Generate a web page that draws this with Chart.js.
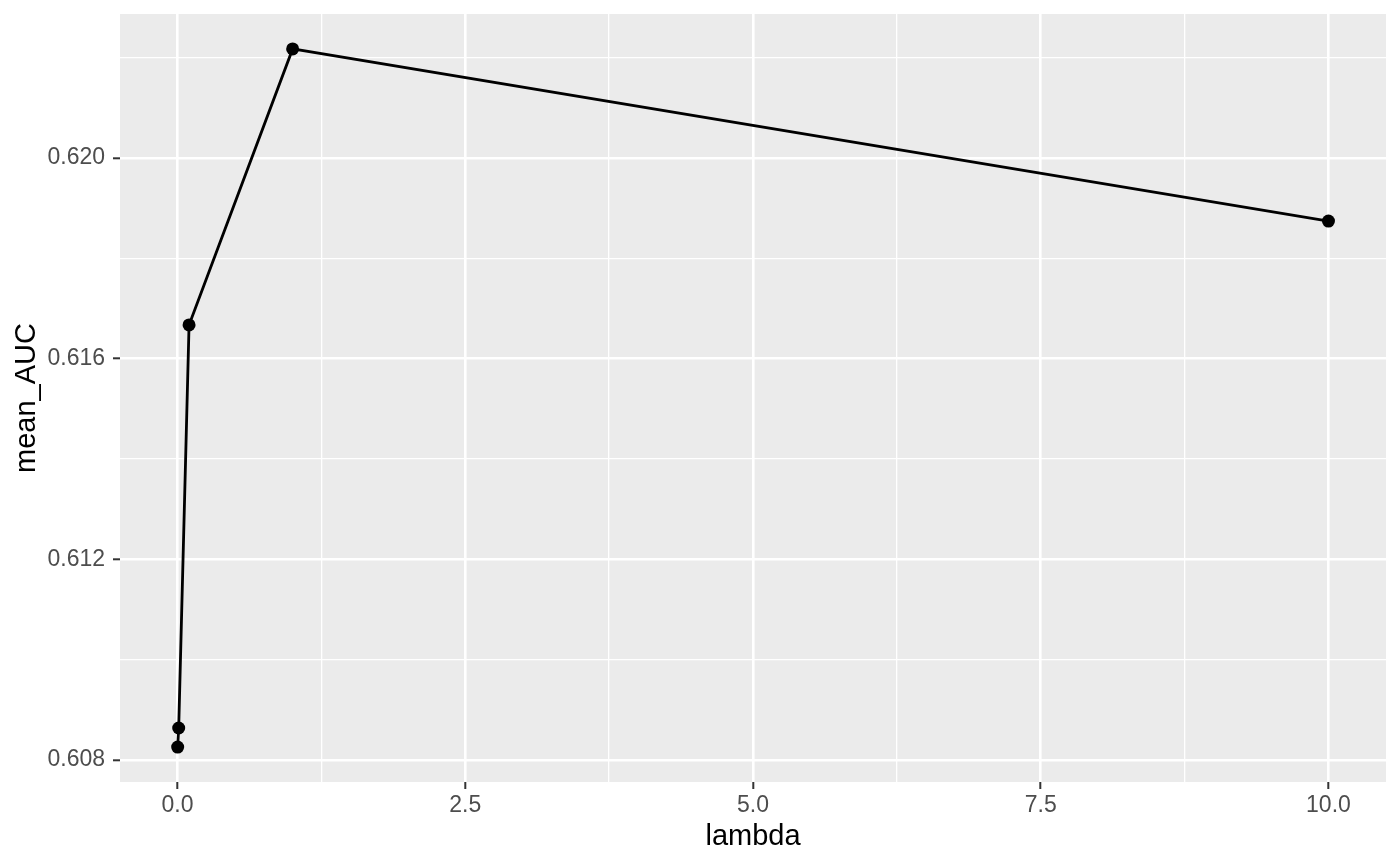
<!DOCTYPE html>
<html>
<head>
<meta charset="utf-8">
<script src="https://cdn.jsdelivr.net/npm/chart.js@4/dist/chart.umd.min.js"></script>
<style>
  html, body { margin: 0; padding: 0; background: #ffffff; }
  canvas { display: block; }
</style>
</head>
<body>
<canvas id="c" width="1400" height="866"></canvas>
<script>
// ---- data ----
const lambdas = [0.001, 0.01, 0.1, 1, 10];
const meanAUC = [0.60826, 0.60864, 0.61667, 0.62217, 0.61874];

// ---- axis ticks ----
const xMajorTicks = [0, 2.5, 5, 7.5, 10];
const xMinorTicks = [1.25, 3.75, 6.25, 8.75];
const yMajorTicks = [0.608, 0.612, 0.616, 0.620];
const yMinorTicks = [0.610, 0.614, 0.618, 0.622];
const xLabels = ['0.0', '2.5', '5.0', '7.5', '10.0'];
const yLabels = ['0.608', '0.612', '0.616', '0.620'];

// ggplot-style 5% expansion
function expand(vals) {
  const lo = Math.min(...vals), hi = Math.max(...vals);
  const d = (hi - lo) * 0.05;
  return [lo - d, hi + d];
}
const xRange = expand([0, ...lambdas.slice(1)]);
const yRange = expand(meanAUC);

const FONT = "'Liberation Sans', Arial, Helvetica, sans-serif";

function isMajor(list, v) { return list.some(m => Math.abs(m - v) < 1e-9); }

const panelBg = {
  id: 'panelBg',
  beforeDraw(chart) {
    const { ctx, chartArea: a } = chart;
    ctx.save();
    ctx.fillStyle = '#ffffff';
    ctx.fillRect(0, 0, chart.width, chart.height);
    ctx.fillStyle = '#EBEBEB';
    ctx.fillRect(a.left, a.top, a.right - a.left, a.bottom - a.top);
    ctx.restore();
  }
};

const data = lambdas.map((l, i) => ({ x: l, y: meanAUC[i] }));

new Chart(document.getElementById('c'), {
  type: 'line',
  data: {
    datasets: [{
      data: data,
      borderColor: '#000000',
      backgroundColor: '#000000',
      borderWidth: 2.8,
      pointRadius: 6.5,
      pointBorderWidth: 0,
      pointHoverRadius: 6.5,
      tension: 0,
      fill: false
    }]
  },
  plugins: [panelBg],
  options: {
    responsive: false,
    animation: false,
    devicePixelRatio: 1,
    layout: { padding: { top: 14, right: 14, left: 0, bottom: 0 } },
    plugins: { legend: { display: false }, tooltip: { enabled: false } },
    scales: {
      x: {
        type: 'linear',
        min: xRange[0],
        max: xRange[1],
        afterBuildTicks(scale) {
          scale.ticks = [...xMajorTicks, ...xMinorTicks].sort((a, b) => a - b).map(v => ({ value: v }));
        },
        afterFit(scale) { scale.height = 84; scale.paddingLeft = 0; scale.paddingRight = 0; },
        border: { display: false },
        grid: {
          color: '#ffffff',
          lineWidth: ctx => isMajor(xMajorTicks, ctx.tick.value) ? 2.6 : 1.3,
          drawTicks: true,
          tickLength: 7,
          tickWidth: 2,
          tickColor: ctx => isMajor(xMajorTicks, ctx.tick.value) ? '#333333' : 'rgba(0,0,0,0)'
        },
        ticks: {
          color: '#4D4D4D',
          font: { family: FONT, size: 23 },
          padding: 3,
          maxRotation: 0,
          autoSkip: false,
          callback: (v) => {
            const i = xMajorTicks.findIndex(m => Math.abs(m - v) < 1e-9);
            return i >= 0 ? xLabels[i] : '';
          }
        },
        title: {
          display: true,
          text: 'lambda',
          color: '#000000',
          font: { family: FONT, size: 29 },
          padding: { top: 0, bottom: 12 }
        }
      },
      y: {
        type: 'linear',
        min: yRange[0],
        max: yRange[1],
        afterBuildTicks(scale) {
          scale.ticks = [...yMajorTicks, ...yMinorTicks].sort((a, b) => a - b).map(v => ({ value: v }));
        },
        afterFit(scale) { scale.width = 120; scale.paddingTop = 0; scale.paddingBottom = 0; },
        border: { display: false },
        grid: {
          color: '#ffffff',
          lineWidth: ctx => isMajor(yMajorTicks, ctx.tick.value) ? 2.6 : 1.3,
          drawTicks: true,
          tickLength: 7,
          tickWidth: 2,
          tickColor: ctx => isMajor(yMajorTicks, ctx.tick.value) ? '#333333' : 'rgba(0,0,0,0)'
        },
        ticks: {
          color: '#4D4D4D',
          font: { family: FONT, size: 23 },
          padding: 8,
          autoSkip: false,
          callback: (v) => {
            const i = yMajorTicks.findIndex(m => Math.abs(m - v) < 1e-9);
            return i >= 0 ? yLabels[i] : '';
          }
        },
        title: {
          display: true,
          text: 'mean_AUC',
          color: '#000000',
          font: { family: FONT, size: 29 },
          padding: { top: 10, bottom: 0 }
        }
      }
    }
  }
});
</script>
</body>
</html>
